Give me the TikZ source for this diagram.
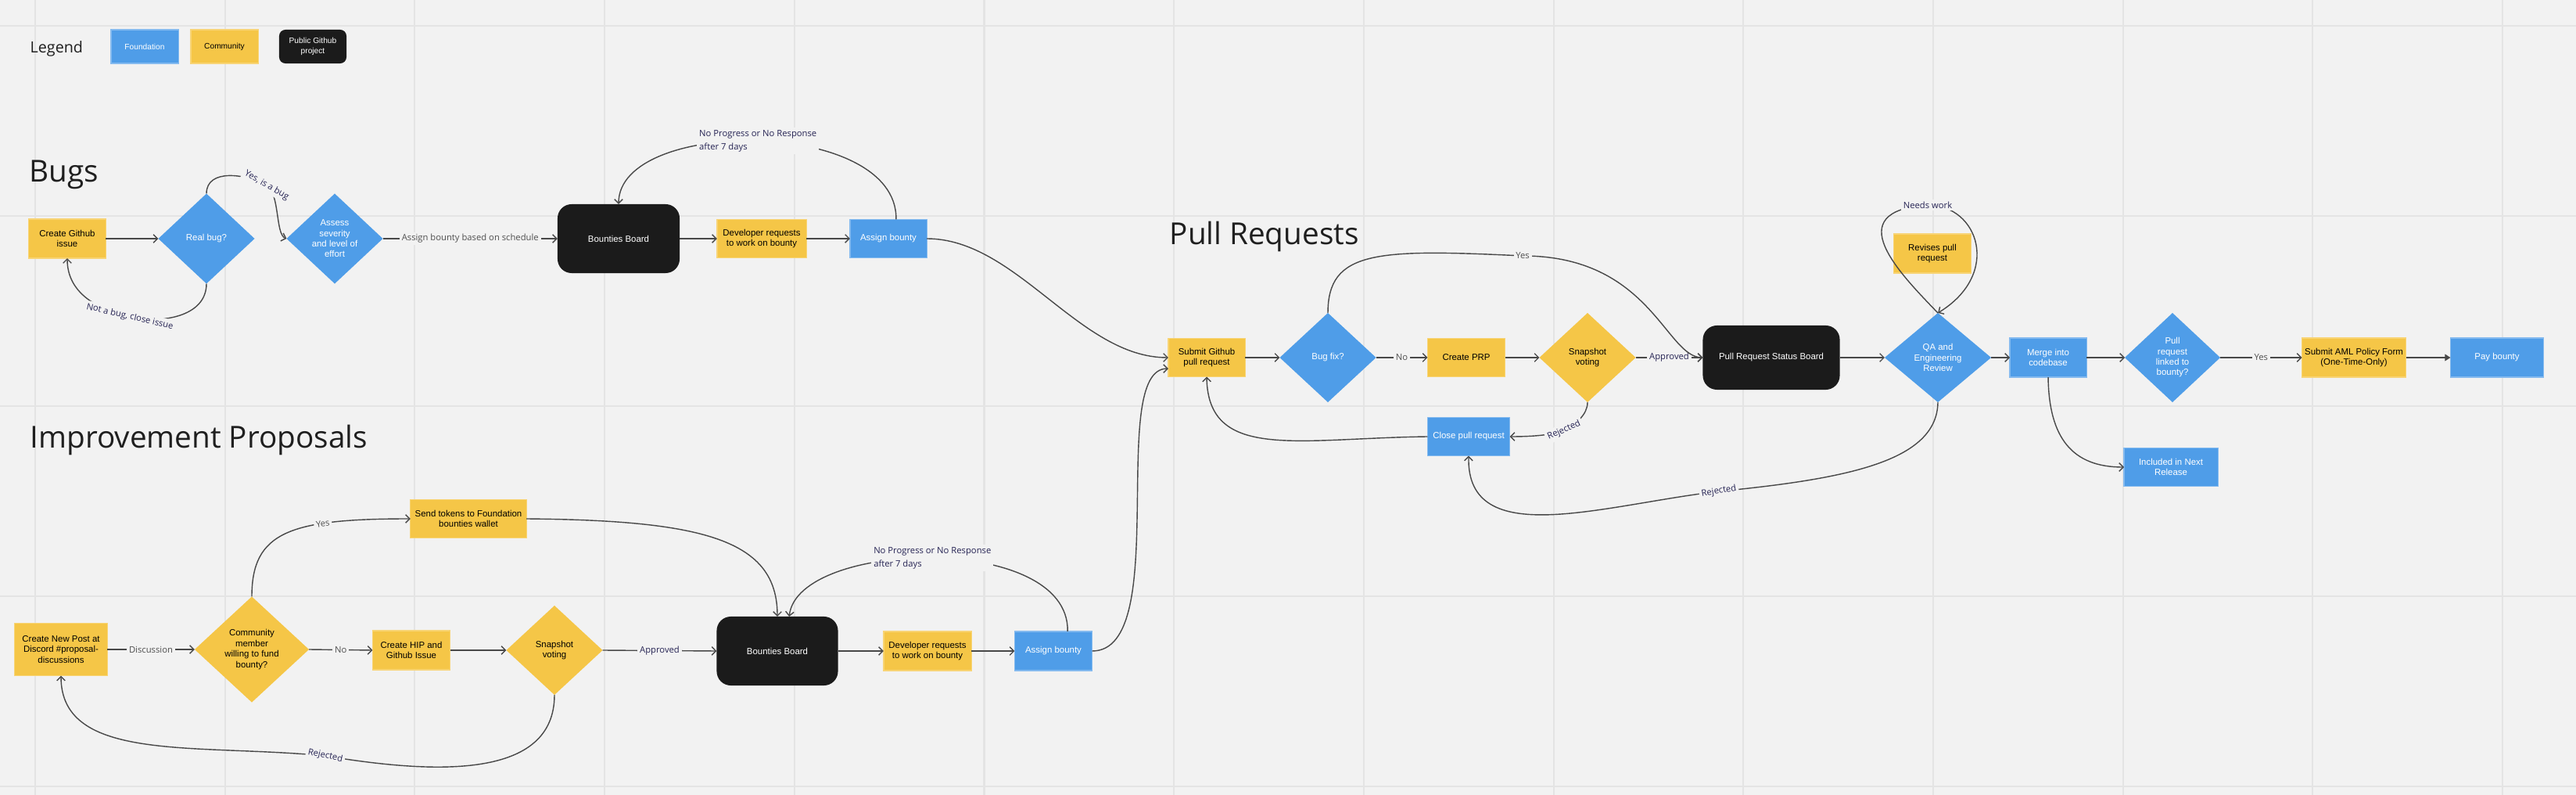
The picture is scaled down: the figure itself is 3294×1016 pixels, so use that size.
\documentclass[tikz,border=0pt]{standalone}
\usepackage{fontspec}
\setmainfont{Liberation Sans}
\newfontfamily\osfont{Open Sans}
\definecolor{fdblue}{RGB}{79,157,232}
\definecolor{cmyellow}{RGB}{245,198,71}
\definecolor{ghblack}{RGB}{27,27,27}
\definecolor{bggray}{RGB}{242,242,242}
\definecolor{gridgray}{RGB}{228,228,228}
\definecolor{linegray}{RGB}{72,72,72}
\definecolor{lblnavy}{RGB}{38,36,84}
\definecolor{lblgray}{RGB}{80,80,80}
\usetikzlibrary{arrows.meta,shapes.geometric}
\newcommand{\boxfont}{\fontsize{3.25}{3.8}\selectfont}
\newcommand{\lblfont}{\osfont\fontsize{3.2}{4.9}\selectfont}

\begin{document}
\begin{tikzpicture}[x=0.01cm, y=-0.01cm,
  fdbox/.style={rectangle, fill=fdblue, draw=fdblue!70!white, line width=0.3pt, text=white, align=center, font=\boxfont, inner sep=0pt, outer sep=0pt},
  cmbox/.style={rectangle, fill=cmyellow, draw=cmyellow!75!white, line width=0.3pt, text=black, align=center, font=\boxfont, inner sep=0pt, outer sep=0pt},
  ghbox/.style={rectangle, rounded corners=0.18cm, fill=ghblack, text=white, align=center, font=\boxfont, inner sep=0pt, outer sep=0pt},
  fddiam/.style={diamond, fill=fdblue, text=white, align=center, font=\boxfont, inner sep=0pt, outer sep=0pt},
  cmdiam/.style={diamond, fill=cmyellow, text=black, align=center, font=\boxfont, inner sep=0pt, outer sep=0pt},
  conn/.style={draw=linegray, line width=0.4pt, -{Straight Barb[length=1.5pt,width=3pt]}},
  lbl/.style={font=\lblfont, text=lblnavy, fill=bggray, inner sep=0.8pt},
  glbl/.style={lbl, text=lblgray},
  sectitle/.style={font=\osfont\fontsize{11}{13}\selectfont, text=black!88, anchor=base west, inner sep=0pt}]

  % Board background and grid
  \useasboundingbox (0,0) rectangle (3294,1016);
  \fill[bggray] (0,0) rectangle (3294,1016);
  \foreach \gx in {0,...,13}
    \draw[gridgray, line width=0.6pt] ({45+242.7*\gx},0) -- ({45+242.7*\gx},1016);
  \foreach \gy in {33,276,519,762,1005}
    \draw[gridgray, line width=0.6pt] (0,\gy) -- (3294,\gy);

  % Legend
  \node[sectitle, font=\osfont\fontsize{5.6}{6.5}\selectfont] (legend) at (38,68) {Legend};
  \node[fdbox, minimum width=0.86cm, minimum height=0.43cm, font=\fontsize{2.9}{3.5}\selectfont] (keyfd) at (185,59.5) {Foundation};
  \node[cmbox, minimum width=0.86cm, minimum height=0.43cm, font=\fontsize{2.9}{3.5}\selectfont] (keycm) at (287,59.5) {Community};
  \node[ghbox, rounded corners=0.08cm, minimum width=0.86cm, minimum height=0.43cm, font=\fontsize{2.9}{3.5}\selectfont] (keygh) at (400,59.5) {Public Github\\project};

  % Section titles
  \node[sectitle] (bugstitle) at (37,233) {Bugs};
  \node[sectitle] (prtitle) at (1495,313) {Pull Requests};
  \node[sectitle] (iptitle) at (38,573) {Improvement Proposals};

  % Bugs nodes
  \node[cmbox, minimum width=0.98cm, minimum height=0.50cm] (create1) at (86,305) {Create Github\\issue};
  \node[fddiam, minimum width=1.23cm, minimum height=1.15cm] (realbug) at (264,305) {Real bug?};
  \node[fddiam, minimum width=1.23cm, minimum height=1.15cm] (assess) at (428,305) {Assess\\severity\\and level of\\effort};
  \node[ghbox, minimum width=1.56cm, minimum height=0.88cm] (board1) at (791,305) {Bounties Board};
  \node[cmbox, minimum width=1.14cm, minimum height=0.49cm] (devreq1) at (974,305) {Developer requests\\to work on bounty};
  \node[fdbox, minimum width=0.98cm, minimum height=0.49cm] (assign1) at (1136,305) {Assign bounty};

  % Pull request nodes
  \node[cmbox, minimum width=0.98cm, minimum height=0.49cm] (submit) at (1543,457) {Submit Github\\pull request};
  \node[fddiam, minimum width=1.23cm, minimum height=1.14cm] (bugfix) at (1698,457) {Bug fix?};
  \node[cmbox, minimum width=0.99cm, minimum height=0.49cm] (prp) at (1875,457) {Create PRP};
  \node[cmdiam, minimum width=1.23cm, minimum height=1.14cm] (snap1) at (2030,457) {Snapshot\\voting};
  \node[ghbox, minimum width=1.75cm, minimum height=0.82cm] (prboard) at (2265,457) {Pull Request Status Board};
  \node[fdbox, minimum width=1.05cm, minimum height=0.49cm] (close) at (1878,558) {Close pull request};
  \node[fddiam, minimum width=1.36cm, minimum height=1.14cm] (qa) at (2478,457) {QA and\\Engineering\\Review};
  \node[cmbox, minimum width=0.99cm, minimum height=0.50cm] (revise) at (2471,324) {Revises pull\\request};
  \node[fdbox, minimum width=0.98cm, minimum height=0.50cm] (merge) at (2619,457) {Merge into\\codebase};
  \node[fddiam, minimum width=1.22cm, minimum height=1.14cm] (linked) at (2778,457) {Pull\\request\\linked to\\bounty?};
  \node[cmbox, minimum width=1.33cm, minimum height=0.50cm] (aml) at (3010,457) {Submit AML Policy Form\\(One-Time-Only)};
  \node[fdbox, minimum width=1.19cm, minimum height=0.50cm] (pay) at (3193,457) {Pay bounty};
  \node[fdbox, minimum width=1.20cm, minimum height=0.49cm] (release) at (2776,597) {Included in Next\\Release};

  % Improvement proposal nodes
  \node[cmbox, minimum width=1.18cm, minimum height=0.67cm] (post) at (78,830) {Create New Post at\\Discord \#proposal-\\discussions};
  \node[cmdiam, minimum width=1.46cm, minimum height=1.35cm] (comm) at (322,830) {Community\\member\\willing to fund\\bounty?};
  \node[cmbox, minimum width=0.99cm, minimum height=0.50cm] (hip) at (526,831) {Create HIP and\\Github Issue};
  \node[cmdiam, minimum width=1.23cm, minimum height=1.14cm] (snap2) at (709,831) {Snapshot\\voting};
  \node[cmbox, minimum width=1.48cm, minimum height=0.49cm] (send) at (599,663) {Send tokens to Foundation\\bounties wallet};
  \node[ghbox, minimum width=1.55cm, minimum height=0.88cm] (board2) at (994,832) {Bounties Board};
  \node[cmbox, minimum width=1.12cm, minimum height=0.50cm] (devreq2) at (1186,832) {Developer requests\\to work on bounty};
  \node[fdbox, minimum width=0.99cm, minimum height=0.50cm] (assign2) at (1347,832) {Assign bounty};

  % Bugs connectors
  \draw[conn] (create1.east) -- (realbug.west);
  \draw[conn] (realbug.north) .. controls (264,215) and (315,222) .. (341,237) node[lbl, rotate=-30] {Yes, is a bug} .. controls (358,247) and (352,300) .. (assess.west);
  \draw[conn] (realbug.south) .. controls (264,405) and (206,414) .. (166,405) node[lbl, rotate=-13] {Not a bug, close issue} .. controls (131,397) and (86,378) .. (create1.south);
  \draw[conn] (assess.east) -- node[glbl] {Assign bounty based on schedule} (board1.west);
  \draw[conn] (board1.east) -- (devreq1.west);
  \draw[conn] (devreq1.east) -- (assign1.west);
  \draw[conn] (assign1.68) .. controls (1148,150) and (791,150) .. node[lbl, align=left] {No Progress or No Response\\after 7 days} (board1.north);
  \draw[conn] (assign1.east) .. controls (1300,305) and (1380,457) .. (submit.west);

  % Pull request connectors
  \draw[conn] (submit.east) -- (bugfix.west);
  \draw[conn] (bugfix.east) -- node[glbl] {No} (prp.west);
  \draw[conn] (prp.east) -- (snap1.west);
  \draw[conn] (snap1.east) -- node[lbl] {Approved} (prboard.west);
  \draw[conn] (bugfix.north) .. controls (1698,320) and (1760,318) .. (1947,327) node[glbl] {Yes} .. controls (2110,327) and (2130,456) .. (prboard.west);
  \draw[conn] (snap1.south) .. controls (2030,530) and (2015,542) .. (2000,550) node[lbl, rotate=24] {Rejected} .. controls (1985,556) and (1960,558) .. (close.east);
  \draw[conn] (close.west) .. controls (1660,560) and (1545,590) .. (submit.south);
  \draw[conn] (prboard.east) -- (qa.west);
  \draw[conn] (qa.north) .. controls (2430,350) and (2350,270) .. (2465,262) node[lbl] {Needs work} .. controls (2530,262) and (2560,350) .. (qa.north);
  \draw[conn] (qa.south) .. controls (2477,590) and (2360,612) .. (2198,628) node[lbl, rotate=10] {Rejected} .. controls (2050,645) and (1875,705) .. (close.south);
  \draw[conn] (qa.east) -- (merge.west);
  \draw[conn] (merge.east) -- (linked.west);
  \draw[conn] (linked.east) -- node[glbl] {Yes} (aml.west);
  \draw[conn, line width=0.6pt, -{Triangle[length=2pt,width=2.4pt]}] (aml.east) -- (pay.west);
  \draw[conn] (merge.south) .. controls (2620,560) and (2650,597) .. (release.west);

  % Improvement proposal connectors
  \draw[conn] (post.east) -- node[glbl] {Discussion} (comm.west);
  \draw[conn] (comm.east) -- node[glbl] {No} (hip.west);
  \draw[conn] (hip.east) -- (snap2.west);
  \draw[conn] (snap2.east) -- node[lbl] {Approved} (board2.west);
  \draw[conn] (comm.north) .. controls (322,680) and (370,663) .. node[glbl, pos=0.7, sloped] {Yes} (send.west);
  \draw[conn] (send.east) .. controls (900,665) and (994,690) .. (board2.north);
  \draw[conn] (snap2.south) .. controls (709,995) and (560,990) .. (416,966) node[lbl, rotate=-12] {Rejected} .. controls (250,950) and (78,975) .. (post.south);
  \draw[conn] (board2.east) -- (devreq2.west);
  \draw[conn] (devreq2.east) -- (assign2.west);
  \draw[conn] (assign2.54) .. controls (1368,680) and (1020,690) .. node[lbl, align=left] {No Progress or No Response\\after 7 days} (board2.71);
  \draw[conn] (assign2.east) .. controls (1500,832) and (1415,471) .. (submit.196);
\end{tikzpicture}
\end{document}
